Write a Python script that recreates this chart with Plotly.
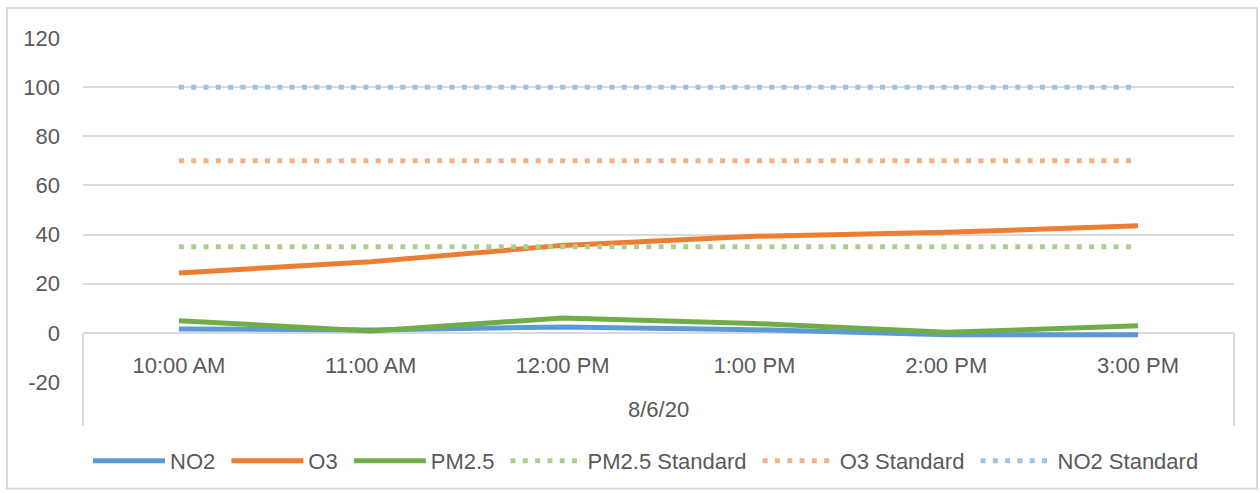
import plotly.graph_objects as go

# ---- data ----
times = ["10:00 AM", "11:00 AM", "12:00 PM", "1:00 PM", "2:00 PM", "3:00 PM"]
date_label = "8/6/20"
no2 = [1.6, 1.2, 2.4, 1.3, -0.8, -0.8]
o3 = [24.4, 28.9, 35.6, 39.3, 40.9, 43.6]
pm25 = [4.9, 0.8, 6.0, 3.8, 0.2, 2.9]
pm25_std = [35, 35, 35, 35, 35, 35]
o3_std = [70, 70, 70, 70, 70, 70]
no2_std = [100, 100, 100, 100, 100, 100]
y_ticks = [-20, 0, 20, 40, 60, 80, 100, 120]
y_tick_text = ["-20", "0", "20", "40", "60", "80", "100", "120"]

# ---- layout geometry (pixels) ----
W, H = 1260, 493
L, R, T, B = 83, 26, 38, 110
PW, PH = W - L - R, H - T - B


def px_x(x):
    return (x - L) / PW


def px_y(y):
    return (H - B - y) / PH


FONT = "Liberation Sans"
FS = 22
TXT = "#595959"
GRID = "#D9D9D9"
PAD = "\u00a0"  # extra spacing between legend entries

fig = go.Figure()
series = [
    ("NO2", no2, "#5B9BD5", "solid"),
    ("O3", o3, "#ED7D31", "solid"),
    ("PM2.5", pm25, "#70AD47", "solid"),
    ("PM2.5 Standard", pm25_std, "#A9D18E", "5px,7.3px"),
    ("O3 Standard", o3_std, "#F4B183", "5px,7.3px"),
    ("NO2 Standard", no2_std, "#9DC3E6", "5px,7.3px"),
]
for name, vals, col, dash in series:
    fig.add_trace(go.Scatter(
        x=times, y=vals, name=name + PAD, mode="lines",
        line=dict(color=col, width=5, dash=dash),
        hoverinfo="skip",
    ))

zero_frac = (0 - y_ticks[0]) / (y_ticks[-1] - y_ticks[0])

fig.update_layout(
    width=W, height=H,
    margin=dict(l=L, r=R, t=T, b=B),
    paper_bgcolor="white", plot_bgcolor="white",
    font=dict(family=FONT, size=FS, color=TXT),
    showlegend=True,
    legend=dict(
        orientation="h", x=px_x(88), xanchor="left", xref="paper",
        y=px_y(461), yanchor="middle",
        font=dict(family=FONT, size=FS, color=TXT),
        itemwidth=72, bgcolor="rgba(0,0,0,0)",
        traceorder="normal",
    ),
    xaxis=dict(
        type="category", range=[-0.5, 5.5],
        anchor="free", position=zero_frac,
        showgrid=False, zeroline=False, showline=False,
        ticks="", ticklabelstandoff=17,
        tickfont=dict(family=FONT, size=FS, color=TXT),
        fixedrange=True,
    ),
    yaxis=dict(
        range=[y_ticks[0], y_ticks[-1]],
        tickvals=y_ticks, ticktext=y_tick_text,
        showgrid=True, gridcolor=GRID, gridwidth=2,
        zeroline=True, zerolinecolor=GRID, zerolinewidth=2,
        showline=False, ticks="", ticklabelstandoff=22,
        tickfont=dict(family=FONT, size=FS, color=TXT),
        fixedrange=True,
    ),
)

shapes = []
# category table frame
for xx in (0, 1):
    shapes.append(dict(type="line", xref="x domain", yref="paper",
                       x0=xx, x1=xx, y0=px_y(334), y1=px_y(427),
                       line=dict(color=GRID, width=2)))
# chart outer border
shapes.append(dict(type="rect", xref="paper", yref="paper",
                   x0=px_x(7), x1=px_x(1257), y0=px_y(490), y1=px_y(8),
                   line=dict(color=GRID, width=2), layer="below"))
fig.update_layout(shapes=shapes)

fig.add_annotation(text=date_label, xref="paper", yref="paper",
                   x=0.5, y=px_y(411), xanchor="center", yanchor="middle",
                   showarrow=False, font=dict(family=FONT, size=FS, color=TXT))

fig.write_html("out.html",
               config={"displayModeBar": False, "staticPlot": True},
               post_script="document.body.style.margin='0px';document.body.style.padding='0px';")
